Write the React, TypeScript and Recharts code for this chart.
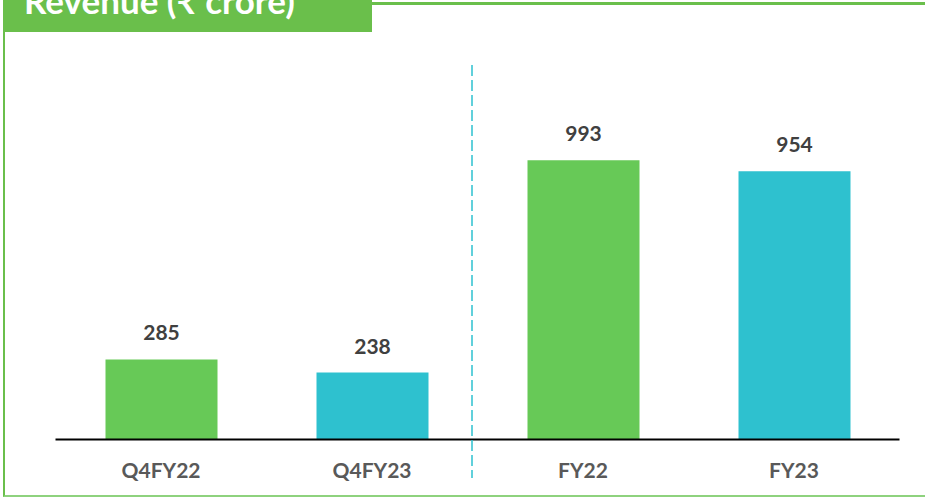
import React from 'react';
import { BarChart, Bar, XAxis, YAxis, LabelList, Cell } from 'recharts';

const categories = ['Q4FY22', 'Q4FY23', 'FY22', 'FY23'];
const revenue = [285, 238, 993, 954];
const barColors = ['#67C957', '#2EC1CF', '#67C957', '#2EC1CF'];
const title = 'Revenue (₹ crore)';

const data = categories.map((c, i) => ({ name: c, value: revenue[i] }));

const FONT = "Lato, 'Noto Sans', 'DejaVu Sans', sans-serif";

export default function App() {
  return (
    <div style={{ position: 'relative', width: 925, height: 497, overflow: 'hidden', background: '#fff', fontFamily: FONT }}>
      <style>{`html, body { margin: 0; padding: 0; }`}</style>
      {/* frame */}
      <div style={{ position: 'absolute', left: 3, top: 2, width: 940, height: 495, borderLeft: '2.5px solid #6ABF4B', borderTop: '3px solid #6ABF4B', borderBottom: '2px solid #8ED27E', boxSizing: 'border-box' }} />
      {/* title tab */}
      <div style={{ position: 'absolute', left: 3, top: 0, width: 369, height: 32, background: '#6ABF4B' }} />
      <div style={{ position: 'absolute', left: 24, top: -18, fontSize: 35, fontWeight: 700, color: '#fff', fontFamily: FONT, whiteSpace: 'nowrap', lineHeight: '36px' }}>{title}</div>
      <div style={{ position: 'absolute', left: 0, top: 0 }}>
        <BarChart width={925} height={497} data={data} margin={{ top: 60, right: 25.5, bottom: 0, left: 55.5 }}>
          <XAxis
            dataKey="name"
            axisLine={{ stroke: '#000', strokeWidth: 1.8 }}
            tickLine={false}
            tickSize={0}
            tickMargin={24}
            height={57.5}
            interval={0}
            tick={{ fill: '#595959', fontSize: 21, fontWeight: 700, fontFamily: FONT }}
          />
          <YAxis hide domain={[0, 1350]} />
          <Bar dataKey="value" barSize={112} isAnimationActive={false}>
            {data.map((d, i) => (
              <Cell key={d.name} fill={barColors[i]} />
            ))}
            <LabelList dataKey="value" position="top" offset={19} fill="#404040" fontSize={21} fontWeight={700} fontFamily={FONT} />
          </Bar>
        </BarChart>
      </div>
      <svg style={{ position: 'absolute', left: 0, top: 0 }} width={925} height={497}>
        <line x1={472} y1={65} x2={472} y2={478} stroke="#2EC1CF" strokeWidth={1.5} strokeDasharray="11 4" />
      </svg>
    </div>
  );
}
